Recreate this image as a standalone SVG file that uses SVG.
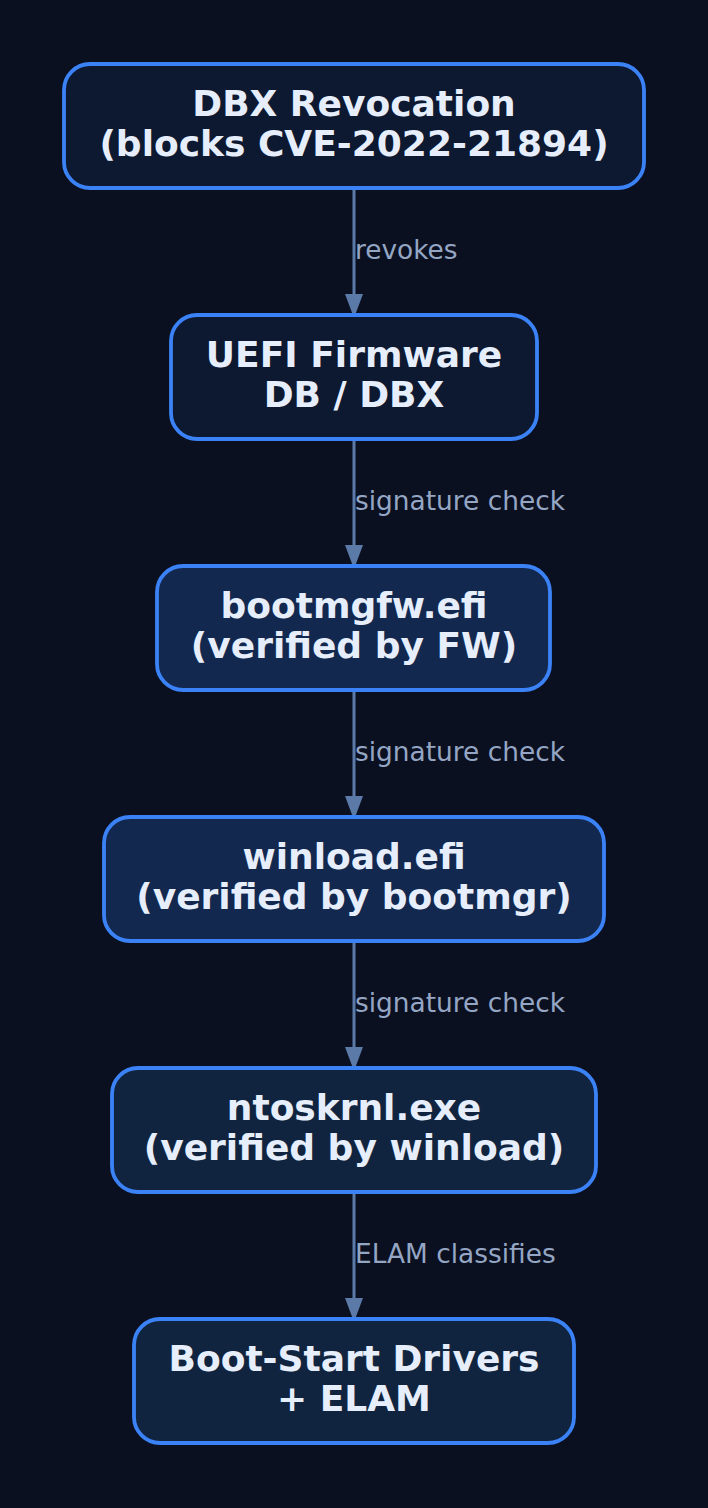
<svg xmlns="http://www.w3.org/2000/svg" width="708" height="1508" viewBox="0 0 708 1508">
<defs>
<style>
.node rect{stroke:#3b82f6;stroke-width:3.8}
.t{font-family:"DejaVu Sans",sans-serif;font-weight:bold;font-size:36px;fill:#e6eefc;text-anchor:middle}
.lbl{font-family:"DejaVu Sans",sans-serif;font-size:26.4px;fill:#94a6c4}
.edge{stroke:#5b7aa8;stroke-width:3;fill:none}
.ah{fill:#5b7aa8}
</style>
</defs>
<rect width="708" height="1508" fill="#0a1020"/>
<g id="connectors">
<line class="edge" x1="354" y1="188" x2="354" y2="294"/>
<path class="ah" d="M345,294 L363,294 L354,318 Z"/>
<text class="lbl" x="355" y="259">revokes</text>
<line class="edge" x1="354" y1="439" x2="354" y2="545"/>
<path class="ah" d="M345,545 L363,545 L354,569 Z"/>
<text class="lbl" x="355" y="510">signature check</text>
<line class="edge" x1="354" y1="690" x2="354" y2="796"/>
<path class="ah" d="M345,796 L363,796 L354,820 Z"/>
<text class="lbl" x="355" y="761">signature check</text>
<line class="edge" x1="354" y1="941" x2="354" y2="1047"/>
<path class="ah" d="M345,1047 L363,1047 L354,1071 Z"/>
<text class="lbl" x="355" y="1012">signature check</text>
<line class="edge" x1="354" y1="1192" x2="354" y2="1298"/>
<path class="ah" d="M345,1298 L363,1298 L354,1322 Z"/>
<text class="lbl" x="355" y="1263">ELAM classifies</text>
</g>
<g id="dbx" class="node">
<rect x="64" y="64" width="580" height="124" rx="26" fill="#0d1831"/>
<text class="t" x="354" y="116">DBX Revocation</text>
<text class="t" x="354" y="156">(blocks CVE-2022-21894)</text>
</g>
<g id="uefi" class="node">
<rect x="171" y="315" width="366" height="124" rx="26" fill="#0d1831"/>
<text class="t" x="354" y="367">UEFI Firmware</text>
<text class="t" x="354" y="407">DB / DBX</text>
</g>
<g id="bootmgfw" class="node">
<rect x="157" y="566" width="393" height="124" rx="26" fill="#13284f"/>
<text class="t" x="354" y="618">bootmgfw.efi</text>
<text class="t" x="354" y="658">(verified by FW)</text>
</g>
<g id="winload" class="node">
<rect x="104" y="817" width="500" height="124" rx="26" fill="#13284f"/>
<text class="t" x="354" y="869">winload.efi</text>
<text class="t" x="354" y="909">(verified by bootmgr)</text>
</g>
<g id="ntoskrnl" class="node">
<rect x="112" y="1068" width="484" height="124" rx="26" fill="#11243f"/>
<text class="t" x="354" y="1120">ntoskrnl.exe</text>
<text class="t" x="354" y="1160">(verified by winload)</text>
</g>
<g id="drivers" class="node">
<rect x="134" y="1319" width="440" height="124" rx="26" fill="#11243f"/>
<text class="t" x="354" y="1371">Boot-Start Drivers</text>
<text class="t" x="354" y="1411">+ ELAM</text>
</g>
</svg>
